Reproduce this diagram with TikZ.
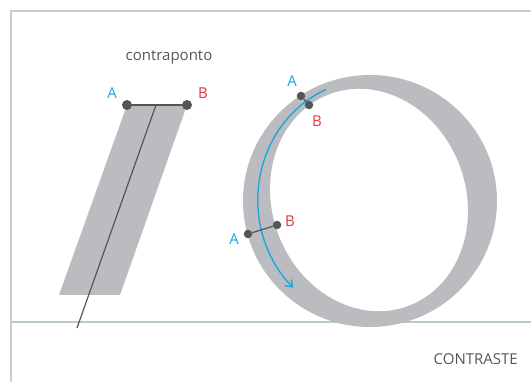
\documentclass[tikz,border=0pt]{standalone}
\usepackage{fontspec}
\setmainfont{Open Sans}
\usepackage{tikz}
\usetikzlibrary{positioning,arrows.meta}

\definecolor{glyphgray}{HTML}{BBBCBF}
\definecolor{ink}{HTML}{555555}
\definecolor{framegray}{HTML}{CCCCCC}
\definecolor{basegray}{HTML}{B9CCC2}
\definecolor{cyanA}{HTML}{1AA7E1}
\definecolor{redB}{HTML}{EA3340}

\begin{document}
\begin{tikzpicture}[x=1pt, y=-1pt, font=\fontsize{15}{17}\selectfont]
  \tikzstyle{dot}=[circle, fill=ink, minimum size=10pt, inner sep=0pt]
  \tikzstyle{sdot}=[circle, fill=ink, minimum size=8.5pt, inner sep=0pt]
  \tikzstyle{la}=[text=cyanA, inner sep=0pt]
  \tikzstyle{lb}=[text=redB, inner sep=0pt]
  \tikzstyle{caption}=[text=ink, inner sep=0pt]

  \useasboundingbox (0,0) rectangle (531,382);

  % frame and baseline
  \draw[framegray, line width=1.6pt] (531,11) -- (11,11) -- (11,382);
  \draw[basegray, line width=1.3pt] (11,322) -- (531,322);

  % contraponto: slanted stroke
  \fill[glyphgray] (127,105) -- (187,105) -- (120,295) -- (59,295) -- cycle;
  \node[dot] (A1) at (127,105) {};
  \node[dot] (B1) at (187,105) {};
  \coordinate (top) at (156,105);
  \coordinate (foot) at (77,328);
  \draw[ink, line width=1.2pt] (A1) -- (B1);
  \draw[ink, line width=1.2pt] (top) -- (foot);
  \node[la] (lA1) at (112,93) {A};
  \node[lb] (lB1) at (203,93) {B};
  \node[caption] (contraponto) at (169,57) {contraponto};

  % contraste: the O
  \fill[glyphgray, even odd rule] (370,201) ellipse [x radius=127, y radius=126]
    (369,200) ellipse [x radius=97, y radius=113, rotate=20];
  \coordinate (arcstart) at (326,89.5);
  \draw[cyanA, line width=1.4pt, -{Straight Barb[length=6pt, width=9pt]}]
    (arcstart) arc[start angle=247, end angle=133, x radius=112, y radius=120];

  \node[sdot] (A2) at (301,96) {};
  \node[sdot] (B2) at (309,105) {};
  \draw[ink, line width=1.2pt] (A2) -- (B2);
  \node[la] (lA2) at (292,81) {A};
  \node[lb] (lB2) at (317,121) {B};

  \node[sdot] (A3) at (248,234) {};
  \node[sdot] (B3) at (277,225) {};
  \draw[ink, line width=1.2pt] (A3) -- (B3);
  \node[la] (lA3) at (234,239) {A};
  \node[lb] (lB3) at (290,221) {B};

  \node[caption, anchor=east] (contraste) at (518,359) {CONTRASTE};
\end{tikzpicture}
\end{document}
